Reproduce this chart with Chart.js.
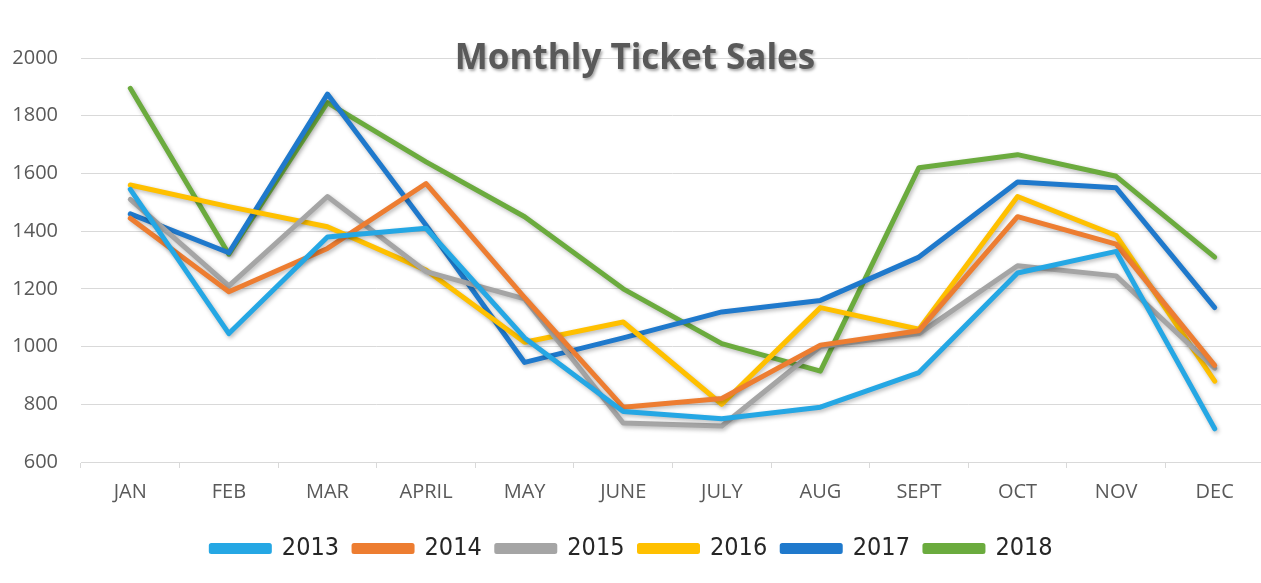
<!DOCTYPE html>
<html>
<head>
<meta charset="utf-8">
<script src="https://cdn.jsdelivr.net/npm/chart.js@4"></script>
<style>
  html, body { margin: 0; padding: 0; background: #fff; overflow: hidden; }
  #wrap { position: absolute; left: 0; top: 0; width: 1266px; height: 583px; }
</style>
</head>
<body>
<div id="wrap"><canvas id="chart" width="1266" height="583"></canvas></div>
<script>
const months = ['JAN', 'FEB', 'MAR', 'APRIL', 'MAY', 'JUNE', 'JULY', 'AUG', 'SEPT', 'OCT', 'NOV', 'DEC']

const sales2013 = [1545, 1045, 1380, 1410, 1030, 775, 750, 790, 910, 1255, 1330, 715]
const sales2014 = [1445, 1190, 1340, 1565, 1170, 790, 820, 1005, 1055, 1450, 1355, 935]
const sales2015 = [1510, 1210, 1520, 1260, 1165, 735, 725, 1000, 1045, 1280, 1245, 925]
const sales2016 = [1560, 1485, 1415, 1265, 1015, 1085, 800, 1135, 1060, 1520, 1385, 880]
const sales2017 = [1460, 1325, 1875, 1420, 945, 1030, 1120, 1160, 1310, 1570, 1550, 1135]
const sales2018 = [1895, 1320, 1845, 1640, 1450, 1200, 1010, 915, 1620, 1665, 1590, 1310]

const seriesNames = ['2013', '2014', '2015', '2016', '2017', '2018']
const seriesColors = ['#25a7e4', '#ed7d31', '#a5a5a5', '#ffc000', '#1f79cc', '#6bab3e']

const chartTitle = 'Monthly Ticket Sales'

const allSeries = [sales2013, sales2014, sales2015, sales2016, sales2017, sales2018]

// Excel-style soft shadow under every line
const lineShadow = {
    id: 'lineShadow',
    beforeDatasetDraw(chart) {
        const ctx = chart.ctx
        ctx.save()
        ctx.shadowColor = 'rgba(0,0,0,0.28)'
        ctx.shadowBlur = 4
        ctx.shadowOffsetX = 1.5
        ctx.shadowOffsetY = 2
    },
    afterDatasetDraw(chart) {
        chart.ctx.restore()
    }
}

// title sits over the plot area, like the original
const overlayTitle = {
    id: 'overlayTitle',
    afterDraw(chart) {
        const ctx = chart.ctx
        ctx.save()
        ctx.font = 'bold 35px "Open Sans", sans-serif'
        ctx.textAlign = 'center'
        ctx.textBaseline = 'alphabetic'
        ctx.shadowColor = 'rgba(0,0,0,0.35)'
        ctx.shadowBlur = 3
        ctx.shadowOffsetX = 1.5
        ctx.shadowOffsetY = 2
        ctx.fillStyle = '#595959'
        ctx.fillText(chartTitle, 635, 69)
        ctx.restore()
    }
}

const ctx = document.getElementById('chart').getContext('2d')

new Chart(ctx, {
    type: 'line',
    data: {
        labels: months,
        datasets: allSeries.map((values, i) => ({
            label: seriesNames[i],
            data: values,
            borderColor: seriesColors[i],
            backgroundColor: seriesColors[i],
            borderWidth: 5,
            borderJoinStyle: 'round',
            borderCapStyle: 'round',
            pointRadius: 0,
            tension: 0,
            fill: false
        }))
    },
    options: {
        responsive: false,
        animation: false,
        layout: {
            padding: { top: 58, left: 0, right: 2, bottom: 12 }
        },
        plugins: {
            title: { display: false },
            tooltip: { enabled: false },
            legend: {
                display: true,
                position: 'bottom',
                labels: {
                    boxWidth: 58,
                    boxHeight: 6,
                    padding: 15,
                    color: '#262626',
                    font: { family: '"DejaVu Sans Condensed", "Liberation Sans Narrow", sans-serif', size: 25 }
                }
            }
        },
        scales: {
            x: {
                offset: true,
                grid: {
                    display: true,
                    drawOnChartArea: false,
                    drawTicks: true,
                    tickLength: 6,
                    color: '#d9d9d9',
                    offset: true
                },
                border: { display: true, color: '#d9d9d9', width: 1 },
                ticks: {
                    color: '#595959',
                    padding: 12,
                    maxRotation: 0,
                    font: { family: '"Open Sans", sans-serif', size: 20 }
                },
                afterFit(scale) { scale.height = 59 }
            },
            y: {
                min: 600,
                max: 2000,
                ticks: {
                    stepSize: 200,
                    color: '#595959',
                    padding: 23,
                    font: { family: '"Open Sans", sans-serif', size: 20 },
                    callback: (value) => String(value)
                },
                grid: {
                    color: '#d9d9d9',
                    lineWidth: 1,
                    drawTicks: false
                },
                border: { display: false },
                afterFit(scale) { scale.width = 81 }
            }
        }
    },
    plugins: [lineShadow, overlayTitle]
})
</script>
</body>
</html>
